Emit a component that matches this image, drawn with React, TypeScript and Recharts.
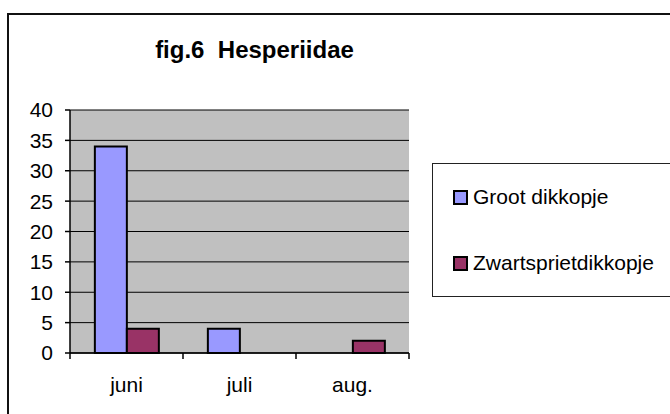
import React from 'react';
import {
  BarChart,
  Bar,
  XAxis,
  YAxis,
  CartesianGrid,
  Legend,
} from 'recharts';

const months = ['juni', 'juli', 'aug.'];
const grootDikkopje = [34, 4, 0];
const zwartsprietDikkopje = [4, 0, 2];
const yTicks = [0, 5, 10, 15, 20, 25, 30, 35, 40];

const series = [
  { key: 'groot', name: 'Groot dikkopje', values: grootDikkopje, color: '#9999FF' },
  { key: 'zwart', name: 'Zwartsprietdikkopje', values: zwartsprietDikkopje, color: '#993366' },
];

const data = months.map((m, i) => ({
  month: m,
  groot: grootDikkopje[i],
  zwart: zwartsprietDikkopje[i],
}));

const FONT = '"Liberation Sans", Arial, sans-serif';

// category label plus the tick marks on the band edges, like Excel does
function MonthTick(props: any) {
  const { x, y, payload, index, visibleTicksCount } = props;
  const half = payload && typeof payload.offset === 'number' ? payload.offset : 0;
  const last = index === visibleTicksCount - 1;
  return (
    <g>
      <line x1={x - half} x2={x - half} y1={y} y2={y + 6} stroke="#000" strokeWidth={1.5} />
      {last && <line x1={x + half} x2={x + half} y1={y} y2={y + 6} stroke="#000" strokeWidth={1.5} />}
      <text x={x} y={y + 24} dy="0.71em" textAnchor="middle" fontSize={21} fill="#000" fontFamily={FONT}>
        {payload.value}
      </text>
    </g>
  );
}

function LegendBox() {
  return (
    <div
      style={{
        boxSizing: 'border-box',
        width: 250,
        height: 134,
        border: '1px solid #222',
        background: '#fff',
        display: 'flex',
        flexDirection: 'column',
        justifyContent: 'space-around',
        paddingLeft: 20,
        fontFamily: FONT,
        fontSize: 21,
        color: '#000',
      }}
    >
      {series.map((s) => (
        <div key={s.key} style={{ display: 'flex', alignItems: 'center', height: 20 }}>
          <span
            style={{
              display: 'inline-block',
              boxSizing: 'border-box',
              width: 15,
              height: 15,
              background: s.color,
              border: '2px solid #000',
              marginRight: 5,
            }}
          />
          <span style={{ lineHeight: '20px' }}>{s.name}</span>
        </div>
      ))}
    </div>
  );
}

export default function App() {
  return (
    <div
      style={{
        position: 'absolute',
        left: 0,
        top: 0,
        width: 670,
        height: 414,
        overflow: 'hidden',
        background: '#fff',
        fontFamily: FONT,
      }}
    >
      <div
        style={{
          position: 'absolute',
          left: 7,
          top: 13,
          width: 700,
          height: 450,
          border: '2px solid #111',
          boxSizing: 'border-box',
        }}
      />
      <div
        style={{
          position: 'absolute',
          left: 0,
          top: 38,
          width: 509,
          textAlign: 'center',
          fontSize: 24,
          lineHeight: '24px',
          fontWeight: 'bold',
          whiteSpace: 'pre',
          color: '#000',
        }}
      >
        {'fig.6  Hesperiidae'}
      </div>
      <BarChart
        width={670}
        height={414}
        data={data}
        margin={{ top: 110, right: 261, bottom: 31, left: 0 }}
        barGap={0}
        barCategoryGap="22%"
        style={{ position: 'absolute', left: 0, top: 0 }}
      >
        <CartesianGrid
          vertical={false}
          fill="#C0C0C0"
          fillOpacity={1}
          stroke="#000"
          strokeWidth={1}
        />
        <XAxis
          dataKey="month"
          height={30}
          tickLine={false}
          tickSize={0}
          tickMargin={0}
          axisLine={{ stroke: '#000', strokeWidth: 1.5 }}
          tick={<MonthTick />}
          interval={0}
        />
        <YAxis
          domain={[0, 40]}
          ticks={yTicks}
          width={70}
          tickSize={5}
          tickMargin={12}
          axisLine={{ stroke: '#000', strokeWidth: 1.5 }}
          tickLine={{ stroke: '#000', strokeWidth: 1.5 }}
          tick={{ fontSize: 21, fill: '#000', fontFamily: FONT }}
        />
        <YAxis
          yAxisId="edge"
          orientation="right"
          domain={[0, 40]}
          width={0}
          tick={false}
          tickLine={false}
          axisLine={{ stroke: '#808080', strokeWidth: 2 }}
        />
        {series.map((s) => (
          <Bar
            key={s.key}
            dataKey={s.key}
            name={s.name}
            fill={s.color}
            stroke="#000"
            strokeWidth={2}
            isAnimationActive={false}
          />
        ))}
        <Legend
          layout="horizontal"
          verticalAlign="middle"
          align="center"
          content={() => <LegendBox />}
          wrapperStyle={{ left: 432, top: 163, width: 250, height: 134 }}
        />
      </BarChart>
    </div>
  );
}
